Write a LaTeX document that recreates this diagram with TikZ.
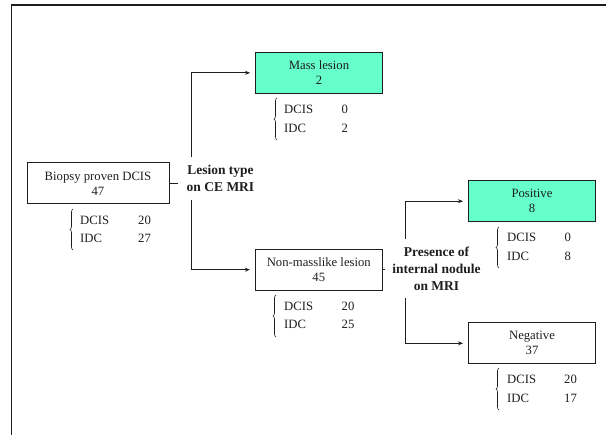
\documentclass[tikz,border=0pt]{standalone}
\usepackage{fontspec}
\setmainfont{Liberation Serif}
\usetikzlibrary{arrows.meta,decorations.pathreplacing,calc}
\definecolor{mint}{RGB}{102,255,204}
\definecolor{ink}{RGB}{30,30,30}
\begin{document}
\begin{tikzpicture}[x=1pt,y=-1pt,
  box/.style={draw=ink,line width=0.9pt,inner sep=0pt,minimum height=41pt,align=center,text=ink,font=\fontsize{12.7}{15}\selectfont},
  greenbox/.style={box,fill=mint},
  decision/.style={inner sep=0pt,align=center,text=ink,font=\bfseries\fontsize{13.5}{17}\selectfont},
  item/.style={anchor=west,inner sep=0pt,text=ink,font=\fontsize{12.7}{15}\selectfont},
  conn/.style={draw=ink,line width=0.8pt},
  arr/.style={conn,-{Stealth[length=5pt,width=4pt]},shorten >=5pt},
  curly/.style={draw=ink,line width=0.6pt,decorate,decoration={brace,amplitude=3pt}}]
\useasboundingbox (0,0) rectangle (606,435);
% frame
\draw[draw=ink,line width=1.5pt] (11.5,450) -- (11.5,5) -- (620,5);
% boxes
\node[box,minimum width=142pt] (biopsy) at (98,183.3) {Biopsy proven DCIS\\47};
\node[greenbox,minimum width=127pt] (mass) at (319,72.8) {Mass lesion\\2};
\node[box,minimum width=127pt] (nonmass) at (318.8,269.7) {Non-masslike lesion\\45};
\node[greenbox,minimum width=127pt] (pos) at (532,201.2) {Positive\\8};
\node[box,minimum width=127pt] (neg) at (532,343.3) {Negative\\37};
% decision labels
\node[decision,minimum width=85pt,minimum height=42pt] (q1) at (220.5,178.5) {Lesion type\\on CE MRI};
\node[decision,minimum width=103pt,minimum height=59pt] (q2) at (436.5,268.5) {Presence of\\internal nodule\\on MRI};
\coordinate (j1) at (191,0);
\coordinate (j2) at (405,0);
% connectors
\draw[conn] (biopsy.east) -- (biopsy.east -| q1.west);
\draw[arr] (q1.north -| j1) |- (mass.west);
\draw[arr] (q1.south -| j1) |- (nonmass.west);
\draw[conn] (nonmass.east) -- (nonmass.east -| q2.west);
\draw[arr] (q2.north -| j2) |- (pos.west);
\draw[arr] (q2.south -| j2) |- (neg.west);
% biopsy breakdown
\node[item] (bd) at (80,220) {DCIS}; \node[item] (bdn) at (138,220) {20};
\node[item] (bi) at (80,238.5) {IDC}; \node[item] (bin) at (138,238.5) {27};
\draw[curly] (73,250) -- (73,209);
% mass breakdown
\node[item] (md) at (284,109) {DCIS}; \node[item] (mdn) at (341.5,109) {0};
\node[item] (mi) at (284,128) {IDC}; \node[item] (min) at (341.5,128) {2};
\draw[curly] (277,140) -- (277,98);
% non-mass breakdown
\node[item] (nd) at (284,306) {DCIS}; \node[item] (ndn) at (341.5,306) {20};
\node[item] (ni) at (284,324.5) {IDC}; \node[item] (nin) at (341.5,324.5) {25};
\draw[curly] (276,337) -- (276,295);
% positive breakdown
\node[item] (pd) at (507,237) {DCIS}; \node[item] (pdn) at (564.5,237) {0};
\node[item] (pi) at (507,256) {IDC}; \node[item] (pin) at (564.5,256) {8};
\draw[curly] (499,268) -- (499,227);
% negative breakdown
\node[item] (gd) at (507,379) {DCIS}; \node[item] (gdn) at (564,379) {20};
\node[item] (gi) at (507,398) {IDC}; \node[item] (gin) at (564,398) {17};
\draw[curly] (499,410) -- (499,368);
\end{tikzpicture}
\end{document}
